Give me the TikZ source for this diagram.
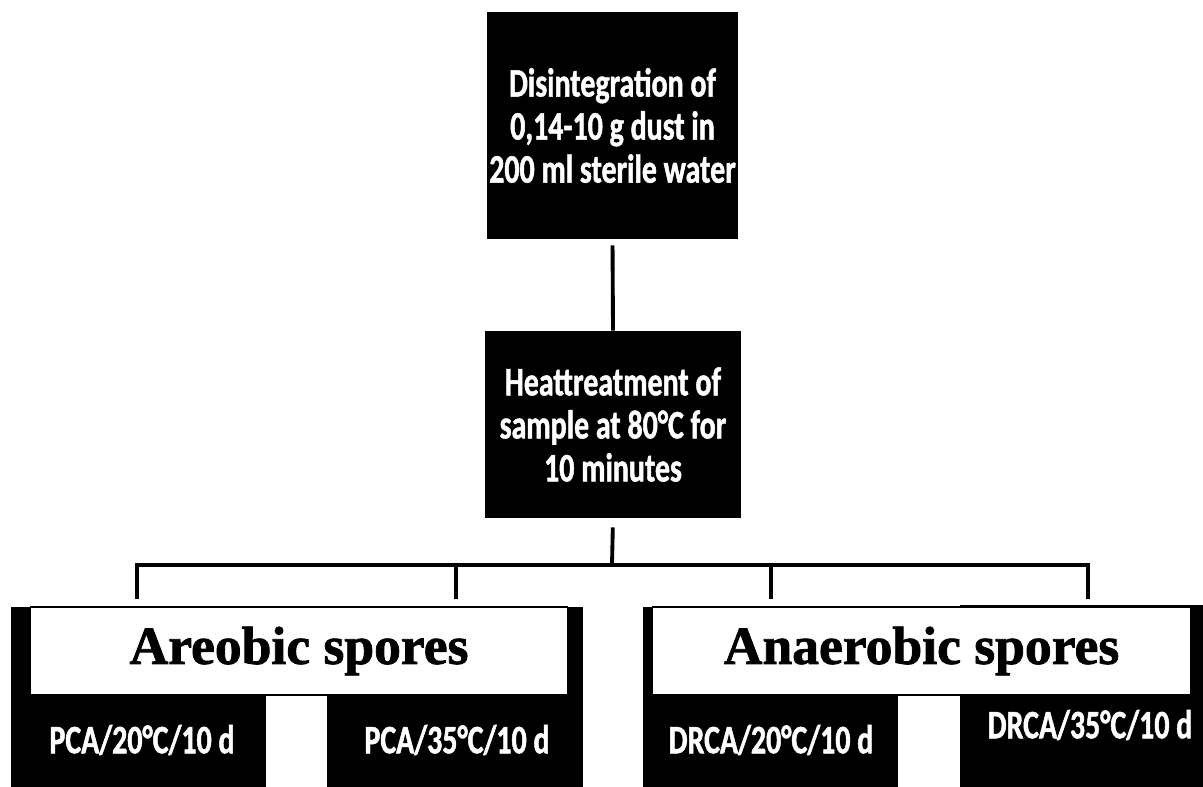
\documentclass[tikz,border=0pt]{standalone}
\usepackage{fontspec}
\usepackage{tikz}
\newfontfamily\boxfont[FakeStretch=0.74,FakeBold=1.2]{Carlito}
\newfontfamily\headfont[BoldFeatures={FakeBold=1.5}]{Liberation Serif}

\begin{document}
\begin{tikzpicture}[x=0.02cm,y=-0.02cm]
\tikzset{
  blackbox/.style={fill=black,inner sep=0pt,text=white,align=center,
    font=\boxfont\bfseries\fontsize{23}{24.5}\selectfont},
  headbox/.style={fill=white,draw=black,line width=0.6pt,inner sep=0pt,
    font=\headfont\bfseries\fontsize{30.5}{33}\selectfont},
  leaftext/.style={inner sep=0pt,text=white,
    font=\boxfont\bfseries\fontsize{23}{24.5}\selectfont},
  link/.style={line width=2.2pt}
}
\useasboundingbox (0,0) rectangle (1203,787);
% steps
\node [blackbox,minimum width=5.02cm,minimum height=4.54cm] (dust) at (612.5,125.5)
  {Disintegration of\\0,14-10 g dust in\\200 ml sterile water};
\node [blackbox,minimum width=5.12cm,minimum height=3.74cm] (heat) at (613,424.5)
  {Heattreatment of\\sample at 80°C for\\10 minutes};
% plates
\node [blackbox,minimum width=5.10cm,minimum height=3.6cm] (pca20) at (138.5,697) {};
\node [blackbox,minimum width=5.12cm,minimum height=3.6cm] (pca35) at (455,697) {};
\node [blackbox,minimum width=5.10cm,minimum height=3.6cm] (drca20) at (770.5,697) {};
\node [blackbox,minimum width=4.86cm,minimum height=3.64cm] (drca35) at (1081.5,696) {};
\node [leaftext] (pca20txt) at (142,740) {PCA/20°C/10 d};
\node [leaftext] (pca35txt) at (457,740) {PCA/35°C/10 d};
\node [leaftext] (drca20txt) at (771,740) {DRCA/20°C/10 d};
\node [leaftext] (drca35txt) at (1090,725) {DRCA/35°C/10 d};
% groups
\node [headbox,minimum width=10.76cm,minimum height=1.76cm] (aero) at (299,651) {Areobic spores};
\node [headbox,minimum width=10.78cm,minimum height=1.76cm] (anaero) at (921.5,651) {Anaerobic spores};
% links
\coordinate (split) at (612,565);
\coordinate (d1) at (137,599);
\coordinate (d2) at (456,599);
\coordinate (d3) at (771,599);
\coordinate (d4) at (1088,599);
\draw [link,shorten <=0.12cm] (dust.south) -- (heat.north);
\draw [link,shorten <=0.18cm] (heat.south) -- (split);
\draw [link] (split) -| (d1);
\draw [link] (split) -| (d2);
\draw [link] (split) -| (d3);
\draw [link] (split) -| (d4);
\end{tikzpicture}
\end{document}
